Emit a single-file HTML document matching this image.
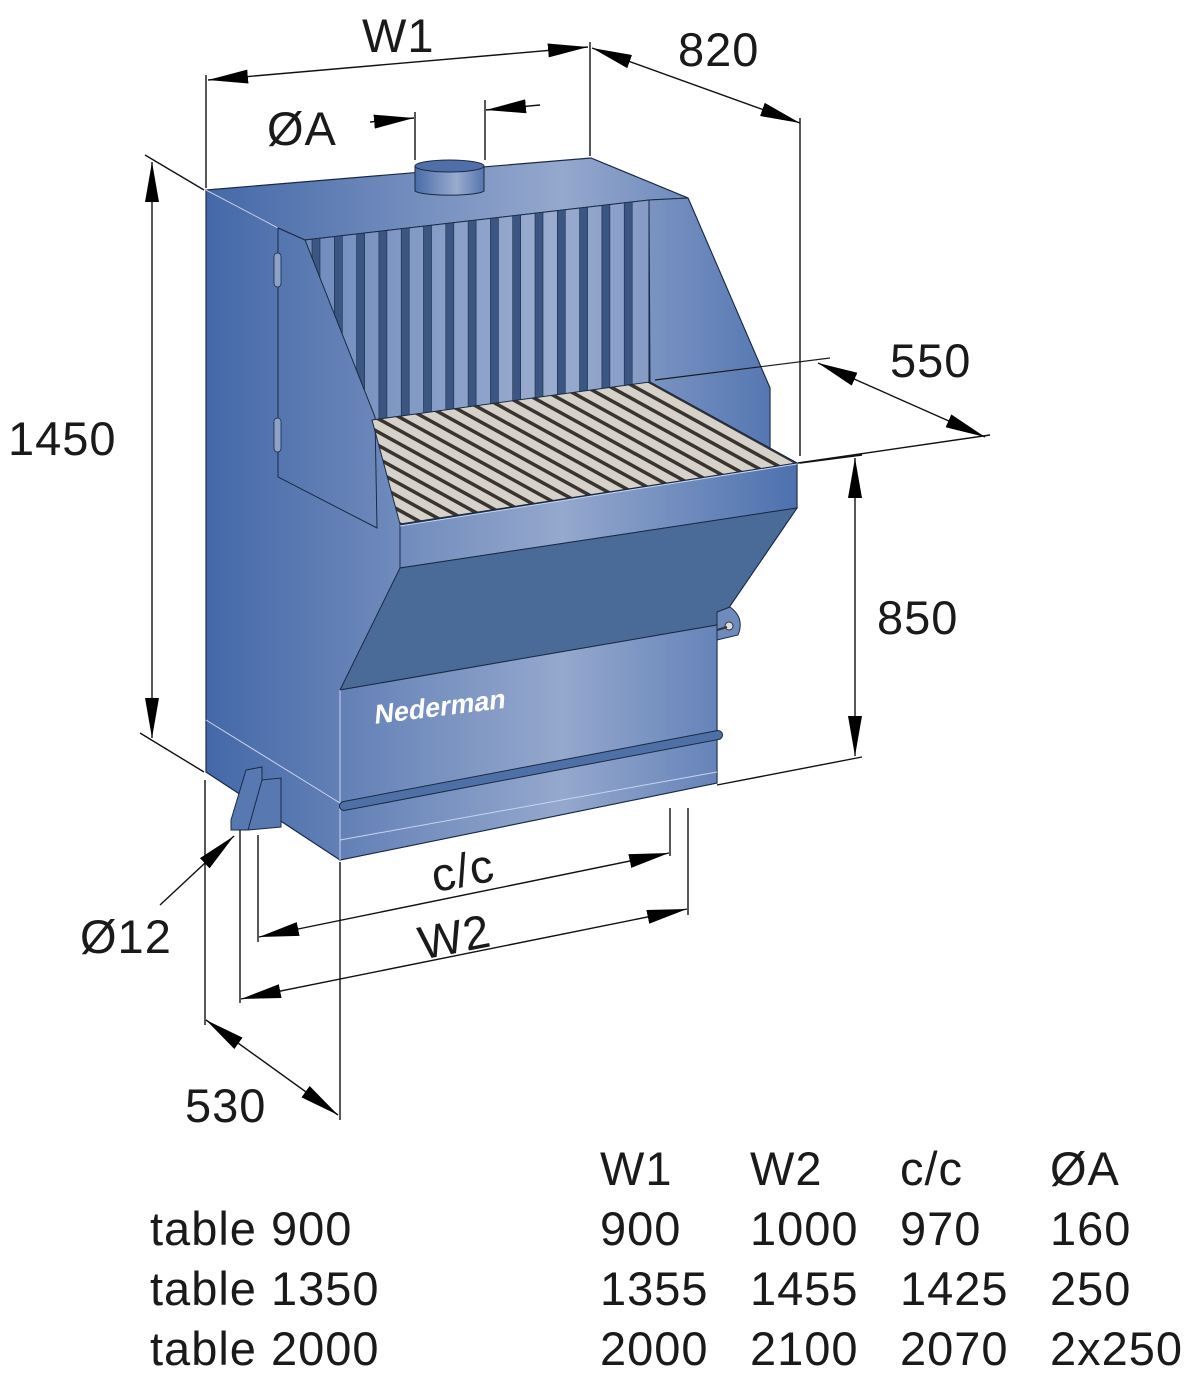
<!DOCTYPE html>
<html><head><meta charset="utf-8"><style>
html,body{margin:0;padding:0;background:#fff;}
svg{display:block;}
text{font-family:"Liberation Sans",sans-serif;fill:#1a1a1a;}
</style></head><body>
<svg id="s" width="1187" height="1384" viewBox="0 0 1187 1384" xmlns="http://www.w3.org/2000/svg">
<defs>
<linearGradient id="g" gradientUnits="userSpaceOnUse" x1="206" y1="0" x2="800" y2="0">
<stop offset="0" stop-color="#4468a8"/><stop offset="0.6" stop-color="#95a8cd"/><stop offset="1" stop-color="#4c70ae"/>
</linearGradient>
<linearGradient id="g2" gradientUnits="userSpaceOnUse" x1="300" y1="0" x2="660" y2="0">
<stop offset="0" stop-color="#6f8bbd"/><stop offset="0.7" stop-color="#9aaccf"/><stop offset="1" stop-color="#8299c4"/>
</linearGradient>
<linearGradient id="gd" gradientUnits="userSpaceOnUse" x1="415" y1="0" x2="484" y2="0">
<stop offset="0" stop-color="#4a6ca8"/><stop offset="0.6" stop-color="#9aaccf"/><stop offset="1" stop-color="#5575ae"/>
</linearGradient>
<clipPath id="gc"><polygon points="372,420 650,382 797,463 400,524"/></clipPath>
<marker id="a" viewBox="0 0 40 14" refX="40" refY="7" markerWidth="40" markerHeight="14" markerUnits="userSpaceOnUse" orient="auto-start-reverse"><path d="M0,0 L40,7 L0,14 z" fill="#000"/></marker>
</defs>

<polygon points="206,190 591,158 688,198 770,388 770,460 797,463 797,508 717,625 717,783 340,860 206,772" fill="url(#g)" stroke="#1a2a44" stroke-width="1.2"/>
<polyline points="206,190 278,228 305,240 649,200 688,198" fill="none" stroke="#1a2a44" stroke-width="1"/>
<line x1="206" y1="190" x2="278" y2="228" stroke="#c8d4ee" stroke-width="1"/>
<polygon points="305,240 649,200 649,383 372,420" fill="url(#g2)" stroke="#1a2a44" stroke-width="1"/>
<g id="slats" fill="#3b5682" stroke="#1a2a44" stroke-width="0.6"></g>
<polygon points="649,200 688,198 770,388 770,460 797,463 650,382" fill="url(#g)" stroke="#1a2a44" stroke-width="1"/>
<line x1="655" y1="380" x2="830" y2="358" stroke="#1a1a1a" stroke-width="1.2"/>
<polygon points="278,228 305,240 375,417 377,528 278,477" fill="url(#g)" stroke="#1a2a44" stroke-width="1"/>
<rect x="274" y="253" width="7" height="34" rx="3.5" fill="#8ea2c8" stroke="#1a2a44" stroke-width="0.8"/>
<rect x="274" y="418" width="7" height="34" rx="3.5" fill="#8ea2c8" stroke="#1a2a44" stroke-width="0.8"/>
<polygon points="372,420 650,382 797,463 400,524" fill="#d6d1c9"/>
<g id="grille" clip-path="url(#gc)" stroke="#3a342f" stroke-width="3.5"></g>
<polygon points="372,420 650,382 797,463 400,524" fill="none" stroke="#1a2a44" stroke-width="1"/>
<polygon points="400,525 797,463 797,508 400,568" fill="url(#g)" stroke="#1a2a44" stroke-width="1"/>
<line x1="400" y1="526" x2="797" y2="464" stroke="#c8d4ee" stroke-width="1"/>
<polygon points="400,568 797,508 717,625 340,690" fill="#4a6a98" stroke="#1a2a44" stroke-width="1"/>
<polygon points="340,690 717,625 717,783 340,860" fill="url(#g)" stroke="#1a2a44" stroke-width="1"/>
<line x1="206" y1="720" x2="340" y2="803" stroke="#c8d4ee" stroke-width="1"/>
<line x1="340" y1="840" x2="717" y2="772" stroke="#c8d4ee" stroke-width="1"/>
<line x1="340" y1="690" x2="340" y2="860" stroke="#c8d4ee" stroke-width="1"/>
<line x1="344" y1="806" x2="718" y2="735" stroke="#1a2a44" stroke-width="10" stroke-linecap="round"/>
<line x1="344" y1="806" x2="718" y2="735" stroke="#4f70a6" stroke-width="8" stroke-linecap="round"/>
<text x="0" y="0" transform="translate(374,724) rotate(-7) skewX(-12)" style="font-size:27px;font-weight:bold;fill:#fff;">Nederman</text>
<path d="M717,612 L730,607 Q745,618 738,635 L717,640 z" fill="#6f8bbd" stroke="#1a2a44" stroke-width="1"/>
<circle cx="729" cy="626" r="4" fill="#ddd" stroke="#333" stroke-width="1"/>
<line x1="717" y1="630" x2="727" y2="627" stroke="#333" stroke-width="2"/>
<polygon points="246,770 262,767 262,780 281,778 281,827 248,830 231,830 231,820" fill="#5878b2" stroke="#1a2a44" stroke-width="1"/>
<line x1="262" y1="780" x2="248" y2="830" stroke="#1a2a44" stroke-width="1"/>
<path d="M415,166 L415,191 A35,5 0 0 0 484,191 L484,166" fill="url(#gd)" stroke="#1a2a44" stroke-width="1"/>
<ellipse cx="449.5" cy="166" rx="34.5" ry="6" fill="#4e6fa8" stroke="#1a2a44" stroke-width="1"/>

<g stroke="#111" stroke-width="1.4" fill="none">
<line x1="206" y1="75" x2="206" y2="188"/>
<line x1="590" y1="42" x2="590" y2="156"/>
<line x1="208" y1="80" x2="588" y2="47" marker-start="url(#a)" marker-end="url(#a)"/>
<line x1="592" y1="48" x2="800" y2="123" marker-start="url(#a)" marker-end="url(#a)"/>
<line x1="800" y1="118" x2="800" y2="456"/>
<line x1="415" y1="112" x2="415" y2="160"/>
<line x1="485" y1="100" x2="485" y2="160"/>
<line x1="370" y1="122" x2="414" y2="118" marker-end="url(#a)"/>
<line x1="540" y1="105" x2="486" y2="110" marker-end="url(#a)"/>
<line x1="145" y1="155" x2="204" y2="190"/>
<line x1="140" y1="733" x2="204" y2="772"/>
<line x1="152" y1="162" x2="152" y2="738" marker-start="url(#a)" marker-end="url(#a)"/>
<line x1="818" y1="363" x2="985" y2="437" marker-start="url(#a)" marker-end="url(#a)"/>
<line x1="798" y1="463" x2="990" y2="435"/>
<line x1="800" y1="463" x2="862" y2="455"/>
<line x1="717" y1="785" x2="862" y2="757"/>
<line x1="855" y1="458" x2="855" y2="756" marker-start="url(#a)" marker-end="url(#a)"/>
<line x1="258" y1="835" x2="258" y2="942"/>
<line x1="670" y1="808" x2="670" y2="856"/>
<line x1="259" y1="937" x2="669" y2="853" marker-start="url(#a)" marker-end="url(#a)"/>
<line x1="240" y1="830" x2="240" y2="1003"/>
<line x1="688" y1="808" x2="688" y2="915"/>
<line x1="241" y1="999" x2="687" y2="909" marker-start="url(#a)" marker-end="url(#a)"/>
<line x1="205" y1="780" x2="205" y2="1025"/>
<line x1="340" y1="862" x2="340" y2="1120"/>
<line x1="206" y1="1020" x2="338" y2="1115" marker-start="url(#a)" marker-end="url(#a)"/>
<line x1="160" y1="905" x2="234" y2="836" marker-end="url(#a)"/>
</g>
<g style="font-size:47px;letter-spacing:1px;">
<text x="362" y="52">W1</text>
<text x="678" y="66">820</text>
<text x="267" y="145">ØA</text>
<text x="8" y="455">1450</text>
<text x="890" y="377">550</text>
<text x="877" y="634">850</text>
<text x="431" y="887" transform="rotate(-11 460 870)">c/c</text>
<text x="418" y="952" transform="rotate(-11 460 935)">W2</text>
<text x="80" y="953">Ø12</text>
<text x="185" y="1122">530</text>
<text x="600" y="1185">W1</text><text x="750" y="1185">W2</text><text x="900" y="1185">c/c</text><text x="1050" y="1185">ØA</text>
<text x="150" y="1245">table 900</text><text x="600" y="1245">900</text><text x="750" y="1245">1000</text><text x="900" y="1245">970</text><text x="1050" y="1245">160</text>
<text x="150" y="1305">table 1350</text><text x="600" y="1305">1355</text><text x="750" y="1305">1455</text><text x="900" y="1305">1425</text><text x="1050" y="1305">250</text>
<text x="150" y="1365">table 2000</text><text x="600" y="1365">2000</text><text x="750" y="1365">2100</text><text x="900" y="1365">2070</text><text x="1050" y="1365">2x250</text>
</g>
</svg>
<script>
var NS="http://www.w3.org/2000/svg";
var sl=document.getElementById("slats");
for(var i=0;i<15;i++){
  var x=312+i*22.3;
  var yt=240-(x-305)*40/344;
  var yt2=240-(x+8-305)*40/344;
  var yb1=420-(x-372)*37/277, yb2=420-(x+8-372)*37/277;
  var leftx=305+(yb1-240)*70/177;
  if(x<leftx){ yb1=240+((x-305)/70)*177; yb2=240+((x+8-305)/70)*177; }
  var r=document.createElementNS(NS,"polygon");
  r.setAttribute("points",x+","+yt+" "+(x+8)+","+yt2+" "+(x+8)+","+yb2+" "+x+","+yb1);
  sl.appendChild(r);
}
var gr=document.getElementById("grille");
var D=[400,524],C=[797,463],dv=[147,81];
for(var k=-12;k<=22;k++){
  var px=D[0]+k*(C[0]-D[0])/21, py=D[1]+k*(C[1]-D[1])/21;
  var l=document.createElementNS(NS,"line");
  l.setAttribute("x1",px-1.6*dv[0]);l.setAttribute("y1",py-1.6*dv[1]);
  l.setAttribute("x2",px+0.3*dv[0]);l.setAttribute("y2",py+0.3*dv[1]);
  gr.appendChild(l);
}
</script>
</body></html>
